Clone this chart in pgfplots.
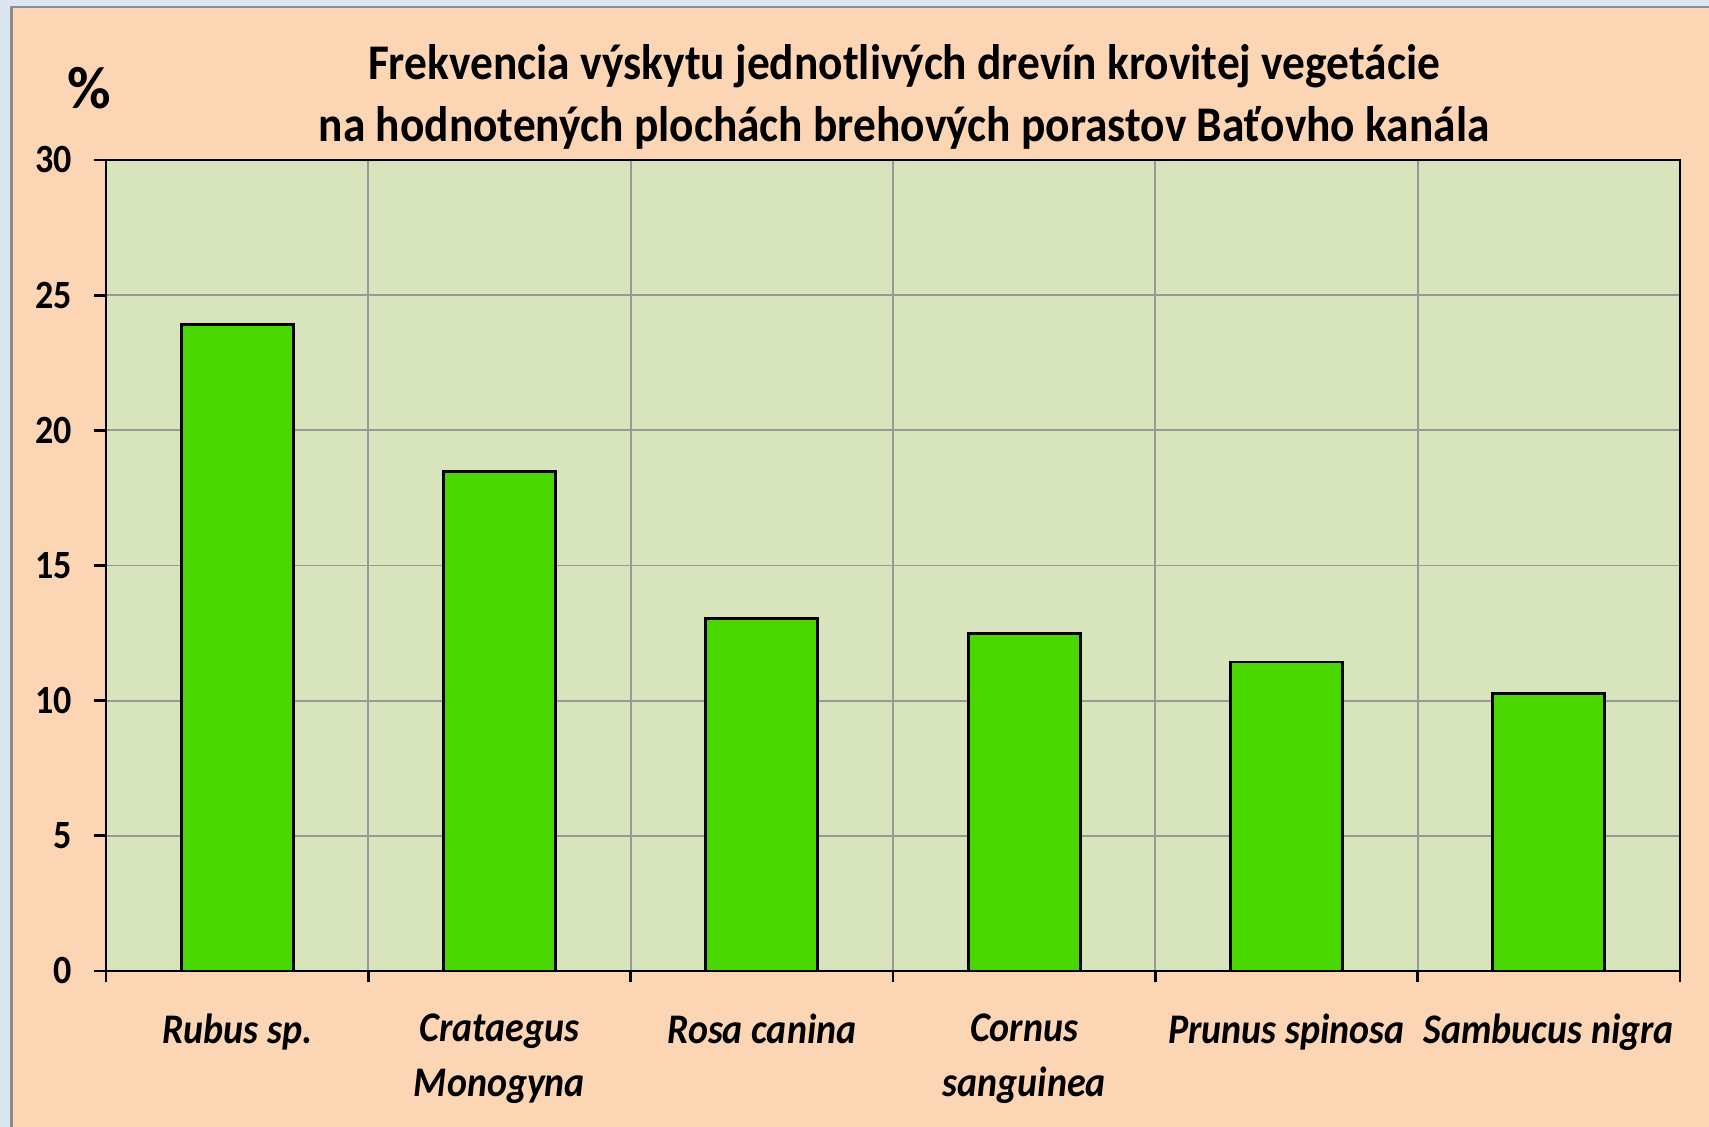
\documentclass[border=0pt]{standalone}
\usepackage{fontspec}
\setmainfont{Carlito}
\usepackage{graphicx}
\usepackage{pgfplots}
\pgfplotsset{compat=1.18}

\definecolor{bluebg}{HTML}{DCE6F2}
\definecolor{orangebg}{HTML}{FCD5B5}
\definecolor{plotbg}{HTML}{D8E4BC}
\definecolor{bargreen}{HTML}{4AD600}
\definecolor{gridgray}{HTML}{989898}
\definecolor{framegray}{HTML}{8C8C8C}

% the original font is set a little narrower than Carlito
\newcommand\nar[1]{\scalebox{0.9}[1]{#1}}

\begin{document}
\begin{tikzpicture}
% page background, 1 px = 0.1 mm
\path[use as bounding box] (0,0) rectangle (170.9mm,-112.7mm);
\fill[bluebg] (0,0) rectangle (170.9mm,-112.7mm);
\fill[orangebg] (1.15mm,-0.7mm) rectangle (170.9mm,-112.7mm);
\draw[framegray, line width=0.25mm] (1.15mm,-112.7mm) -- (1.15mm,-0.7mm) -- (170.9mm,-0.7mm);

\node[anchor=base, font=\fontsize{14.2}{17}\selectfont\bfseries] at (90.4mm,-8.0mm)
  {\scalebox{0.91}[1]{Frekvencia výskytu jednotlivých drevín krovitej vegetácie}};
\node[anchor=base, font=\fontsize{14.2}{17}\selectfont\bfseries] at (90.4mm,-14.2mm)
  {\scalebox{0.91}[1]{na hodnotených plochách brehových porastov Baťovho kanála}};
\node[font=\fontsize{17}{20}\selectfont\bfseries] at (8.9mm,-8.8mm) {\%};

\begin{axis}[
  at={(10.6mm,-97.1mm)}, anchor=south west,
  scale only axis,
  width=157.4mm, height=81.1mm,
  xmin=0.5, xmax=6.5,
  ymin=0, ymax=30,
  axis background/.style={fill=plotbg},
  axis line style={black, line width=0.85pt},
  ytick={0,5,...,30},
  yticklabel={\nar{\pgfmathprintnumber{\tick}}},
  xtick={0.5,1.5,...,6.5},
  xticklabels={},
  extra x ticks={1,2,3,4,5,6},
  extra x tick labels={\nar{Rubus sp.},{\nar{Crataegus}\\\nar{Monogyna}},\nar{Rosa canina},{\nar{Cornus}\\\nar{sanguinea}},\nar{Prunus spinosa},\nar{Sambucus nigra}},
  extra x tick style={grid=none, major tick length=0pt},
  xmajorgrids, ymajorgrids,
  grid style={gridgray, line width=0.55pt},
  tick align=outside,
  xtick pos=bottom, ytick pos=left,
  major tick length=1.15mm,
  tick style={black, line width=0.85pt},
  /pgf/number format/assume math mode=true,
  yticklabel style={font=\fontsize{11.4}{13}\selectfont\bfseries, xshift=-1.0mm},
  xticklabel style={font=\fontsize{12}{15.8}\selectfont\bfseries\itshape, align=center, yshift=-3.0mm},
  ybar, bar width=11.2mm,
]
\addplot[fill=bargreen, draw=black, line width=0.85pt] coordinates {
  (1,23.9) (2,18.46) (3,13.05) (4,12.47) (5,11.43) (6,10.27)
};
\end{axis}
\end{tikzpicture}
\end{document}
